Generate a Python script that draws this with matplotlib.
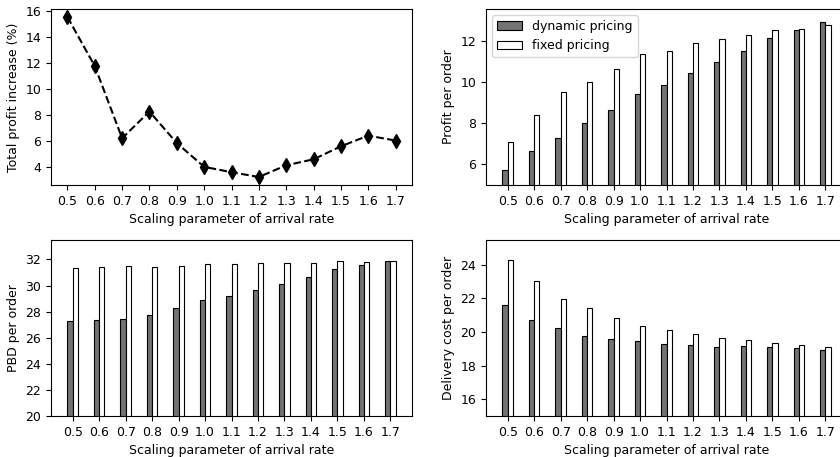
import matplotlib
matplotlib.use("Agg")
import matplotlib.pyplot as plt
import numpy as np

plt.rcParams['font.size'] = 9

rates = ['0.5', '0.6', '0.7', '0.8', '0.9', '1.0', '1.1', '1.2', '1.3', '1.4', '1.5', '1.6', '1.7']

profit_increase = [15.52, 11.75, 6.2, 8.25, 5.83, 4.0, 3.59, 3.22, 4.12, 4.58, 5.58, 6.4, 6.02]

profit_dynamic = [5.74, 6.65, 7.30, 8.01, 8.64, 9.42, 9.89, 10.44, 10.99, 11.53, 12.15, 12.53, 12.92]
profit_fixed = [7.10, 8.43, 9.55, 10.02, 10.67, 11.38, 11.53, 11.90, 12.11, 12.28, 12.53, 12.58, 12.81]

pbd_dynamic = [27.31, 27.33, 27.46, 27.75, 28.25, 28.87, 29.17, 29.66, 30.09, 30.65, 31.24, 31.54, 31.87]
pbd_fixed = [31.36, 31.44, 31.52, 31.39, 31.52, 31.69, 31.64, 31.75, 31.75, 31.75, 31.85, 31.80, 31.90]

cost_dynamic = [21.59, 20.72, 20.21, 19.77, 19.61, 19.46, 19.30, 19.24, 19.12, 19.14, 19.12, 19.02, 18.94]
cost_fixed = [24.26, 23.05, 21.99, 21.41, 20.86, 20.35, 20.13, 19.85, 19.67, 19.52, 19.34, 19.22, 19.12]

xlabel = 'Scaling parameter of arrival rate'

W, H = 840, 457
fig = plt.figure(figsize=(W / 100, H / 100), dpi=100)

def axes_px(left, top, right, bottom):
    return fig.add_axes([left / W, 1 - bottom / H, (right - left) / W, (bottom - top) / H])

ax1 = axes_px(51, 9, 412, 185)
ax2 = axes_px(486, 9, 847, 185)
ax3 = axes_px(51, 240, 412, 416)
ax4 = axes_px(486, 240, 847, 416)

x = np.arange(len(rates))

ax1.plot(x, profit_increase, 'k--', marker='d', markersize=7, linewidth=1.5)
ax1.set_ylabel('Total profit increase (%)')
ax1.set_xlabel(xlabel)
ax1.set_xticks(x)
ax1.set_xticklabels(rates)

w = 0.2
dark = '#737373'

def bars(ax, dyn, fix, ylabel, ybottom, legend=False):
    ax.bar(x - w / 2, dyn, w, color=dark, edgecolor='black', linewidth=0.8, label='dynamic pricing')
    ax.bar(x + w / 2, fix, w, color='white', edgecolor='black', linewidth=0.8, label='fixed pricing')
    ax.set_ylim(bottom=ybottom)
    ax.set_xticks(x)
    ax.set_xticklabels(rates)
    ax.set_xlabel(xlabel)
    ax.set_ylabel(ylabel)
    if legend:
        ax.legend(loc='upper left')

bars(ax2, profit_dynamic, profit_fixed, 'Profit per order', 5, legend=True)
bars(ax3, pbd_dynamic, pbd_fixed, 'PBD per order', 20)
bars(ax4, cost_dynamic, cost_fixed, 'Delivery cost per order', 15)

fig.savefig('out.png', dpi=100)
